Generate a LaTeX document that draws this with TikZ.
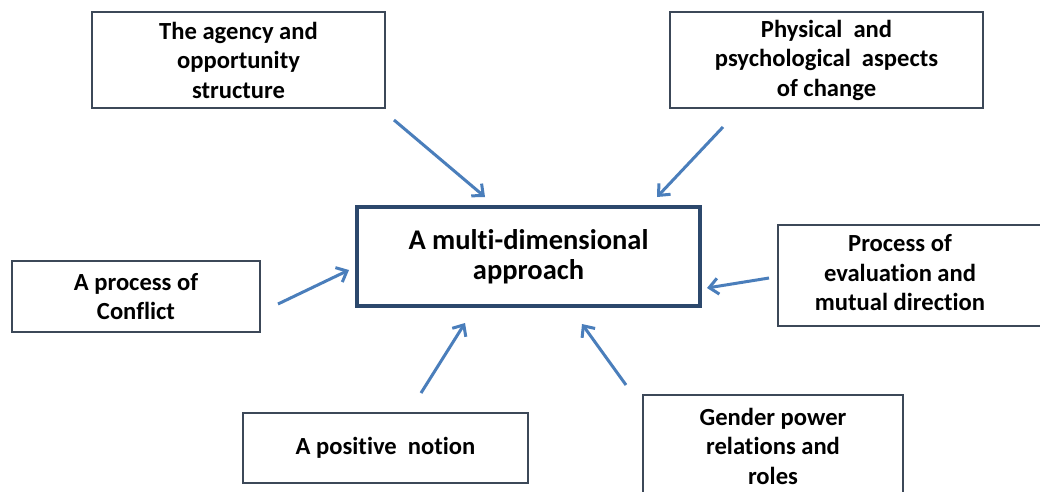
\documentclass[tikz,border=0pt]{standalone}
\usepackage{fontspec}
\setmainfont{Carlito}[Ligatures=NoCommon]
\usetikzlibrary{arrows.meta}
\definecolor{arrowblue}{RGB}{74,126,187}
\definecolor{boxline}{RGB}{60,72,88}
\definecolor{mainline}{RGB}{44,72,108}
\tikzset{
  outerbox/.style={draw=boxline, line width=1.3pt, fill=white, align=center,
    font=\fontsize{24.6}{29.5}\selectfont\bfseries, inner sep=0pt},
  mainbox/.style={draw=mainline, line width=3.5pt, fill=white, align=center,
    font=\fontsize{28.5}{30}\selectfont\bfseries, inner sep=0pt,
    minimum width=343pt, minimum height=99pt},
  conn/.style={draw=arrowblue, line width=3pt,
    -{Straight Barb[length=9pt,width=16pt,line width=3pt]}}
}
\begin{document}
\begin{tikzpicture}[x=1pt,y=-1pt]
\useasboundingbox (0,0) rectangle (1040,491);
\clip (0,0) rectangle (1040,491);
\fill[white] (0,0) rectangle (1040,491);

\node[outerbox, minimum width=293pt, minimum height=96pt] (ag) at (238.5,60)
  {The agency and\\opportunity\\structure};
\node[outerbox, minimum width=313pt, minimum height=96pt] (ph) at (826.5,60)
  {Physical\hspace{0.45em}and\\psychological\hspace{0.45em}aspects\\of change};
\node[mainbox] (mc) at (528.5,256.5) {A multi-dimensional\\approach};
\node[outerbox, minimum width=248pt, minimum height=71pt] (cf) at (136,296.5)
  {A process of\\Conflict};
\node[outerbox, minimum width=267pt, minimum height=101pt] (pr) at (911.5,275.5)
  {\begin{tabular}{@{}c@{}}Process of\\evaluation and\\mutual direction\end{tabular}\hspace{23pt}};
\node[outerbox, minimum width=285pt, minimum height=70pt] (po) at (385.5,448)
  {A positive\hspace{0.45em}notion};
\node[outerbox, minimum width=260pt, minimum height=102pt] (gp) at (773,446)
  {Gender power\\relations and\\roles};

\coordinate (a1s) at (394,120); \coordinate (a1e) at (485,197);
\coordinate (a2s) at (723,127); \coordinate (a2e) at (657,197);
\coordinate (a3s) at (278,304); \coordinate (a3e) at (349,270);
\coordinate (a4s) at (769,278); \coordinate (a4e) at (707,288);
\coordinate (a5s) at (421,393); \coordinate (a5e) at (465,323);
\coordinate (a6s) at (626,385); \coordinate (a6e) at (582,324);

\draw[conn] (a1s) -- (a1e);
\draw[conn] (a2s) -- (a2e);
\draw[conn] (a3s) -- (a3e);
\draw[conn] (a4s) -- (a4e);
\draw[conn] (a5s) -- (a5e);
\draw[conn] (a6s) -- (a6e);
\end{tikzpicture}
\end{document}
